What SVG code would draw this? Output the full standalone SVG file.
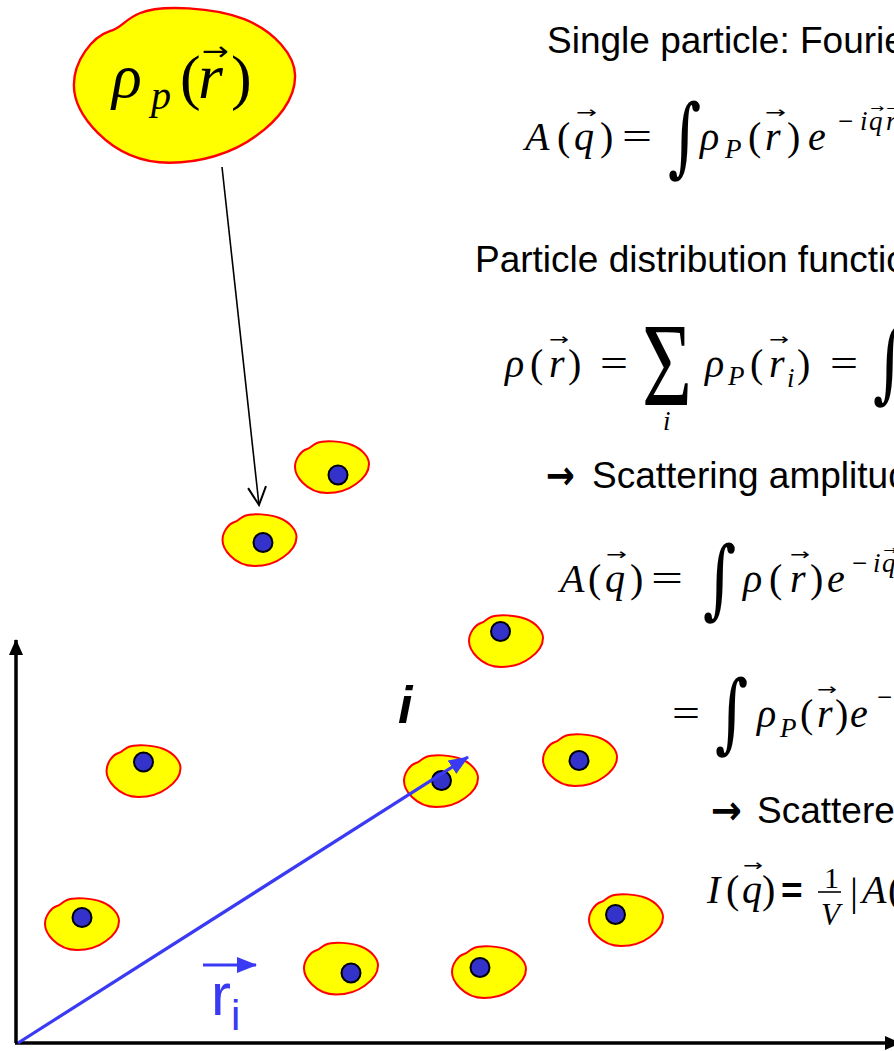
<svg xmlns="http://www.w3.org/2000/svg" width="894" height="1051" viewBox="0 0 894 1051">
<style>
.blob{fill:#ffff00;stroke:#ff0000;stroke-width:2}
.dot{fill:#3333cc;stroke:#000;stroke-width:2}
.txt{font-family:"Liberation Sans",Arial,sans-serif;font-size:37px;fill:#000}
.mi{font-family:"Liberation Serif","Times New Roman",serif;font-style:italic;font-size:40px;fill:#000}
.mn{font-family:"Liberation Serif","Times New Roman",serif;font-size:40px;fill:#000}
.sub{font-size:27px}
.va{font-family:"DejaVu Sans",sans-serif;font-size:16px;fill:#000}
.int{font-family:"DejaVu Serif",serif;font-size:64px;fill:#000}
.arr{font-family:"DejaVu Sans",sans-serif;font-size:40px;font-weight:bold;fill:#000}
</style>
<defs>
<path id="blobshape" d="M-37,0 C-37,-8 -31,-16 -25,-18 C-21,-19 -20,-22 -15,-24 C-8,-27 10,-26 20,-22 C30,-18 37,-10 37,-3 C37,5 31,12 24,17 C16,23 5,26 -5,26 C-16,26 -24,21 -29,16 C-34,11 -37,6 -37,0 Z"/>
<marker id="blkhead" viewBox="0 0 16 14" refX="15" refY="7" markerWidth="16" markerHeight="14" markerUnits="userSpaceOnUse" orient="auto">
<path d="M0,0 L16,7 L0,14 Z" fill="#000"/>
</marker>
<marker id="bluehead" viewBox="0 0 20 16" refX="19" refY="8" markerWidth="20" markerHeight="16" markerUnits="userSpaceOnUse" orient="auto">
<path d="M0,0 L20,8 L0,16 Z" fill="#3a3af5"/>
</marker>
<marker id="openhead" viewBox="0 0 22 22" refX="20" refY="11" markerWidth="22" markerHeight="22" markerUnits="userSpaceOnUse" orient="auto">
<path d="M2,2 L20,11 L2,20" fill="none" stroke="#000" stroke-width="2"/>
</marker>
</defs>
<rect width="894" height="1051" fill="#fff"/>

<g id="big-blob">
<use href="#blobshape" class="blob" transform="translate(184.5,85) scale(2.99)" style="stroke-width:0.8"/>
<text class="mi" x="112" y="97" style="font-size:62px">ρ</text>
<text class="mi" x="151" y="109" style="font-size:40px">p</text>
<text class="mn" x="180" y="98" style="font-size:62px">(</text>
<text class="mi" x="198" y="98" style="font-size:64px">r</text>
<text class="mn" x="231" y="98" style="font-size:62px">)</text>
<text class="va" x="202" y="60" style="font-size:26px" textLength="27" lengthAdjust="spacingAndGlyphs">→</text>
</g>

<g id="axes">
<line x1="16" y1="1043" x2="16" y2="640" stroke="#000" stroke-width="3.5" marker-end="url(#blkhead)"/>
<line x1="15" y1="1043" x2="900" y2="1043" stroke="#000" stroke-width="3.5" marker-end="url(#blkhead)"/>
</g>

<g id="particles">
<g id="p1"><use href="#blobshape" class="blob" x="332" y="467"/><circle class="dot" cx="338" cy="475" r="9.5"/></g>
<g id="p2"><use href="#blobshape" class="blob" x="259.5" y="540"/><circle class="dot" cx="263" cy="542.5" r="9.5"/></g>
<g id="p3"><use href="#blobshape" class="blob" x="506" y="641"/><circle class="dot" cx="500.5" cy="631.5" r="9.5"/></g>
<g id="p4"><use href="#blobshape" class="blob" x="143.5" y="771"/><circle class="dot" cx="143.5" cy="762" r="9.5"/></g>
<g id="p5"><use href="#blobshape" class="blob" x="441" y="781"/><circle class="dot" cx="441.5" cy="780.5" r="9.5"/></g>
<g id="p6"><use href="#blobshape" class="blob" x="580" y="760"/><circle class="dot" cx="579" cy="760.5" r="9.5"/></g>
<g id="p7"><use href="#blobshape" class="blob" x="82" y="924"/><circle class="dot" cx="82" cy="917.5" r="9.5"/></g>
<g id="p8"><use href="#blobshape" class="blob" x="626" y="920"/><circle class="dot" cx="615.5" cy="914.5" r="9.5"/></g>
<g id="p9"><use href="#blobshape" class="blob" x="341" y="968.5"/><circle class="dot" cx="351" cy="973" r="9.5"/></g>
<g id="p10"><use href="#blobshape" class="blob" x="489" y="972"/><circle class="dot" cx="480" cy="967.5" r="9.5"/></g>
</g>

<g id="connectors">
<line x1="222" y1="167" x2="259" y2="505" stroke="#000" stroke-width="1.6" marker-end="url(#openhead)"/>
<line x1="18" y1="1043" x2="468" y2="757" stroke="#3a3af5" stroke-width="3.2" marker-end="url(#bluehead)"/>
<line x1="203" y1="965" x2="256" y2="965" stroke="#3a3af5" stroke-width="3.2" marker-end="url(#bluehead)"/>
</g>

<g id="labels">
<text x="398" y="723" style="font-family:'Liberation Sans',Arial,sans-serif;font-size:52px;font-weight:bold;font-style:italic">i</text>
<text x="211" y="1015" style="font-family:'Liberation Sans',Arial,sans-serif;font-size:60px;fill:#3a3af5">r</text>
<text x="231" y="1030" style="font-family:'Liberation Sans',Arial,sans-serif;font-size:42px;fill:#3a3af5">i</text>
</g>

<g id="texts">
<text class="arr" x="546" y="489" textLength="29" lengthAdjust="spacingAndGlyphs">→</text>
<text class="txt" x="547" y="53">Single particle: Fourie</text>
<text class="txt" x="475" y="272">Particle distribution functio</text>
<text class="txt" x="592" y="488">Scattering amplitud</text>
<text class="arr" x="711" y="824" textLength="31" lengthAdjust="spacingAndGlyphs">→</text>
<text class="txt" x="757" y="823">Scattere</text>
</g>

<g id="eq1">
<text class="mi" x="525" y="150">A</text>
<text class="mn" x="557" y="150">(</text>
<text class="mi" x="574" y="150">q</text>
<text class="va" x="576" y="118" textLength="21" lengthAdjust="spacingAndGlyphs">→</text>
<text class="mn" x="600" y="150">)</text>
<text class="mn" x="622" y="150" textLength="30" lengthAdjust="spacingAndGlyphs">=</text>
<text class="int" transform="translate(668,166) scale(1,1.35)">∫</text>
<text class="mi" x="700" y="150">ρ</text>
<text class="mi sub" x="725" y="158">P</text>
<text class="mn" x="748" y="150">(</text>
<text class="mi" x="765" y="150">r</text>
<text class="va" x="765" y="118" textLength="21" lengthAdjust="spacingAndGlyphs">→</text>
<text class="mn" x="787" y="150">)</text>
<text class="mi" x="808" y="150">e</text>
<text class="mn sub" x="838" y="130">−</text>
<text class="mi sub" x="860" y="130">i</text>
<text class="mi sub" x="869" y="130">q</text>
<text class="va" x="870" y="112" style="font-size:12px" textLength="14" lengthAdjust="spacingAndGlyphs">→</text>
<text class="mi sub" x="886" y="130">r</text>
<text class="va" x="886" y="112" style="font-size:12px" textLength="14" lengthAdjust="spacingAndGlyphs">→</text>
</g>

<g id="eq2">
<text class="mi" x="505" y="377">ρ</text>
<text class="mn" x="530" y="377">(</text>
<text class="mi" x="549" y="377">r</text>
<text class="va" x="549" y="345" textLength="20" lengthAdjust="spacingAndGlyphs">→</text>
<text class="mn" x="568" y="377">)</text>
<text class="mn" x="600" y="377" textLength="28" lengthAdjust="spacingAndGlyphs">=</text>
<text class="mn" transform="translate(642,405) scale(1,1.37)" style="font-size:86px">Σ</text>
<text class="mi sub" x="663" y="430">i</text>
<text class="mi" x="705" y="377">ρ</text>
<text class="mi sub" x="728" y="385">P</text>
<text class="mn" x="750" y="377">(</text>
<text class="mi" x="769" y="377">r</text>
<text class="va" x="769" y="345" textLength="20" lengthAdjust="spacingAndGlyphs">→</text>
<text class="mi sub" x="787" y="387">i</text>
<text class="mn" x="797" y="377">)</text>
<text class="mn" x="830" y="377" textLength="28" lengthAdjust="spacingAndGlyphs">=</text>
<text class="int" transform="translate(873,392) scale(1,1.35)">∫</text>
</g>

<g id="eq3">
<text class="mi" x="560" y="592">A</text>
<text class="mn" x="588" y="592">(</text>
<text class="mi" x="605" y="592">q</text>
<text class="va" x="606" y="560" textLength="21" lengthAdjust="spacingAndGlyphs">→</text>
<text class="mn" x="630" y="592">)</text>
<text class="mn" x="651" y="592" textLength="32" lengthAdjust="spacingAndGlyphs">=</text>
<text class="int" transform="translate(703,608) scale(1,1.35)">∫</text>
<text class="mi" x="743" y="592">ρ</text>
<text class="mn" x="769" y="592">(</text>
<text class="mi" x="790" y="592">r</text>
<text class="va" x="790" y="560" textLength="20" lengthAdjust="spacingAndGlyphs">→</text>
<text class="mn" x="810" y="592">)</text>
<text class="mi" x="827" y="592">e</text>
<text class="mn sub" x="852" y="572">−</text>
<text class="mi sub" x="873" y="572">i</text>
<text class="mi sub" x="882" y="572">q</text>
<text class="va" x="883" y="554" style="font-size:12px" textLength="14" lengthAdjust="spacingAndGlyphs">→</text>
</g>

<g id="eq4">
<text class="mn" x="672" y="727" textLength="28" lengthAdjust="spacingAndGlyphs">=</text>
<text class="int" transform="translate(715,742) scale(1,1.35)">∫</text>
<text class="mi" x="757" y="727">ρ</text>
<text class="mi sub" x="780" y="737">P</text>
<text class="mn" x="800" y="727">(</text>
<text class="mi" x="817" y="727">r</text>
<text class="va" x="817" y="695" textLength="20" lengthAdjust="spacingAndGlyphs">→</text>
<text class="mn" x="835" y="727">)</text>
<text class="mi" x="850" y="727">e</text>
<text class="mn sub" x="877" y="706">−</text>
</g>

<g id="eq5">
<text class="mi" x="707" y="903">I</text>
<text class="mn" x="726" y="903">(</text>
<text class="mi" x="742" y="903">q</text>
<text class="va" x="743" y="871" textLength="20" lengthAdjust="spacingAndGlyphs">→</text>
<text class="mn" x="762" y="903">)</text>
<text x="781" y="903" style="font-family:'Liberation Sans',Arial,sans-serif;font-weight:bold;font-size:37px">=</text>
<text class="mn" x="824" y="888" style="font-size:30px">1</text>
<line x1="818" y1="892" x2="841" y2="892" stroke="#000" stroke-width="1.6"/>
<text class="mi" x="821" y="925" style="font-size:31px">V</text>
<text class="mn" x="850" y="905">|</text>
<text class="mi" x="862" y="903">A</text>
<text class="mn" x="888" y="903">(</text>
</g>
</svg>
